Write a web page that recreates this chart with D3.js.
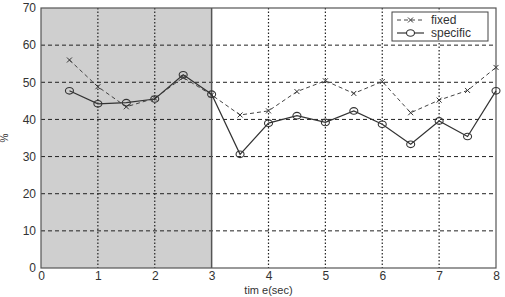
<!DOCTYPE html>
<html>
<head>
<meta charset="utf-8">
<script src="https://cdn.jsdelivr.net/npm/d3@7"></script>
<style>
  body { margin: 0; background: #fff; }
  svg { display: block; font-family: "Liberation Sans", Arial, sans-serif; }
</style>
</head>
<body>
<div id="chart"></div>
<script>
var svgWidth = 505;
var svgHeight = 297;

var margin = { top: 8, right: 9, bottom: 29, left: 41 };
var width = svgWidth - margin.left - margin.right;
var height = svgHeight - margin.top - margin.bottom;

// data
var times = [0.5, 1, 1.5, 2, 2.5, 3, 3.5, 4, 4.5, 5, 5.5, 6, 6.5, 7, 7.5, 8];
var fixedVals = [56.0, 48.8, 43.4, 45.7, 51.3, 46.6, 41.2, 42.3, 47.5, 50.4, 47.0, 50.2, 41.8, 45.2, 47.8, 54.0];
var specificVals = [47.7, 44.2, 44.5, 45.5, 52.0, 46.8, 30.6, 39.0, 41.0, 39.2, 42.3, 38.7, 33.3, 39.6, 35.4, 47.7];
var xTicks = [0, 1, 2, 3, 4, 5, 6, 7, 8];
var yTicks = [0, 10, 20, 30, 40, 50, 60, 70];
var shadeEnd = 3;

var graph = d3.select("#chart")
  .append("svg")
  .attr("width", svgWidth)
  .attr("height", svgHeight);

var chartGroup = graph.append("g")
  .attr("transform", `translate(${margin.left}, ${margin.top})`);

var xScale = d3.scaleLinear().domain([0, 8]).range([0, width]);
var yScale = d3.scaleLinear().domain([0, 70]).range([height, 0]);

// shaded region
chartGroup.append("rect")
  .attr("x", xScale(0))
  .attr("y", 0)
  .attr("width", xScale(shadeEnd) - xScale(0))
  .attr("height", height)
  .attr("fill", "#cfcfcf");

// grid
chartGroup.selectAll(".hgrid")
  .data(yTicks.slice(1, -1))
  .enter()
  .append("line")
  .attr("x1", 0)
  .attr("x2", width)
  .attr("y1", d => yScale(d))
  .attr("y2", d => yScale(d))
  .attr("stroke", "#222")
  .attr("stroke-width", 1)
  .attr("stroke-dasharray", "4,3");

chartGroup.selectAll(".vgrid")
  .data(xTicks.slice(1, -1).filter(d => d !== shadeEnd))
  .enter()
  .append("line")
  .attr("x1", d => xScale(d))
  .attr("x2", d => xScale(d))
  .attr("y1", 0)
  .attr("y2", height)
  .attr("stroke", "#222")
  .attr("stroke-width", 1.2)
  .attr("stroke-dasharray", "1.5,2");

// boundary of the shaded region
chartGroup.append("line")
  .attr("x1", xScale(shadeEnd))
  .attr("x2", xScale(shadeEnd))
  .attr("y1", 0)
  .attr("y2", height)
  .attr("stroke", "#555")
  .attr("stroke-width", 1.5);

// axes
var bottomAxis = d3.axisBottom(xScale).tickValues(xTicks).tickSize(0).tickPadding(3);
var leftAxis = d3.axisLeft(yScale).tickValues(yTicks).tickSize(0).tickPadding(5);

var xAxisG = chartGroup.append("g")
  .attr("transform", `translate(0, ${height})`)
  .call(bottomAxis);
var yAxisG = chartGroup.append("g").call(leftAxis);

[xAxisG, yAxisG].forEach(function(g) {
  g.select(".domain").remove();
  g.selectAll("text")
    .attr("fill", "#333")
    .style("font-size", "12px")
    .style("font-family", "'Liberation Sans', Arial, sans-serif");
});

// frame
chartGroup.append("rect")
  .attr("width", width)
  .attr("height", height)
  .attr("fill", "none")
  .attr("stroke", "#555")
  .attr("stroke-width", 1.2);

// lines
var fixedData = times.map((t, i) => ({ t: t, v: fixedVals[i] }));
var specificData = times.map((t, i) => ({ t: t, v: specificVals[i] }));

var lineGen = d3.line().x(d => xScale(d.t)).y(d => yScale(d.v));

chartGroup.append("path")
  .datum(fixedData)
  .attr("d", lineGen)
  .attr("fill", "none")
  .attr("stroke", "#444")
  .attr("stroke-width", 1)
  .attr("stroke-dasharray", "4,3");

chartGroup.append("path")
  .datum(specificData)
  .attr("d", lineGen)
  .attr("fill", "none")
  .attr("stroke", "#333")
  .attr("stroke-width", 1.2);

// x markers
function crossPath(cx, cy, r) {
  return `M${cx - r},${cy - r}L${cx + r},${cy + r}M${cx - r},${cy + r}L${cx + r},${cy - r}`;
}

chartGroup.selectAll(".xmark")
  .data(fixedData)
  .enter()
  .append("path")
  .attr("d", d => crossPath(xScale(d.t), yScale(d.v), 2.5))
  .attr("stroke", "#333")
  .attr("stroke-width", 1);

chartGroup.selectAll(".omark")
  .data(specificData)
  .enter()
  .append("ellipse")
  .attr("cx", d => xScale(d.t))
  .attr("cy", d => yScale(d.v))
  .attr("rx", 4)
  .attr("ry", 3.3)
  .attr("fill", "none")
  .attr("stroke", "#333")
  .attr("stroke-width", 1.1);

// legend
var legend = graph.append("g").attr("transform", "translate(392, 12)");
legend.append("rect")
  .attr("width", 96)
  .attr("height", 29)
  .attr("fill", "#fff")
  .attr("stroke", "#444")
  .attr("stroke-width", 1);

legend.append("line")
  .attr("x1", 5).attr("x2", 32).attr("y1", 8).attr("y2", 8)
  .attr("stroke", "#444").attr("stroke-dasharray", "4,3");
legend.append("path")
  .attr("d", crossPath(18.5, 8, 2.5))
  .attr("stroke", "#333");
legend.append("text")
  .attr("x", 39).attr("y", 12)
  .attr("fill", "#333")
  .style("font-size", "12px")
  .text("fixed");

legend.append("line")
  .attr("x1", 5).attr("x2", 32).attr("y1", 21).attr("y2", 21)
  .attr("stroke", "#333").attr("stroke-width", 1.2);
legend.append("ellipse")
  .attr("cx", 18.5).attr("cy", 21).attr("rx", 4).attr("ry", 3.3)
  .attr("fill", "#fff").attr("stroke", "#333").attr("stroke-width", 1.1);
legend.append("text")
  .attr("x", 39).attr("y", 25)
  .attr("fill", "#333")
  .style("font-size", "12px")
  .text("specific");

// axis titles
chartGroup.append("text")
  .attr("x", width / 2)
  .attr("y", height + 26)
  .attr("text-anchor", "middle")
  .attr("fill", "#333")
  .style("font-size", "11px")
  .text("tim e(sec)");

graph.append("text")
  .attr("transform", `translate(8, ${margin.top + height / 2}) rotate(-90)`)
  .attr("text-anchor", "middle")
  .attr("fill", "#333")
  .style("font-size", "10px")
  .text("%");
</script>
</body>
</html>
